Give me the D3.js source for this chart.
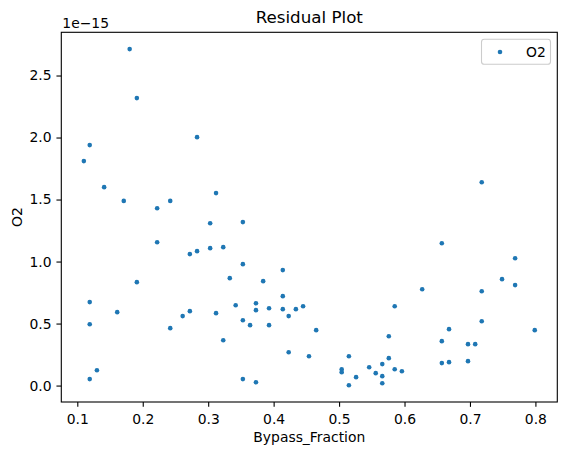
<!DOCTYPE html>
<html><head><meta charset="utf-8">
<script src="https://cdn.jsdelivr.net/npm/d3@7"></script>
<style>
body{margin:0;background:#fff;}
text{font-family:"DejaVu Sans",sans-serif;fill:#000;}
</style></head>
<body>
<svg id="chart" width="567" height="455"></svg>
<script>
// Data (O2 residuals in units of 1e-15)
const bypassFraction = [
  0.180,0.191,0.283,0.119,0.110,0.141,0.312,0.718,
  0.171,0.222,0.242,0.303,0.353,0.222,0.272,0.283,0.303,0.323,0.353,0.414,
  0.191,0.333,0.384,0.119,0.161,0.414,0.342,0.373,0.373,0.393,0.414,0.434,
  0.423,0.272,0.261,0.312,0.353,0.364,0.393,0.119,0.242,0.323,0.423,0.130,
  0.119,0.353,0.373,
  0.445,0.465,0.454,0.657,0.769,0.749,0.769,0.627,0.718,0.585,0.718,0.668,
  0.799,0.576,0.657,0.697,0.708,0.515,0.576,0.657,0.668,0.697,0.566,0.546,
  0.504,0.504,0.585,0.596,0.556,0.566,0.526,0.566,0.515
];
const o2Residual = [
  2.713,2.318,2.003,1.939,1.810,1.600,1.552,1.640,
  1.489,1.430,1.489,1.309,1.318,1.156,1.060,1.084,1.108,1.116,0.979,0.931,
  0.834,0.866,0.842,0.673,0.592,0.721,0.648,0.664,0.608,0.624,0.616,0.616,
  0.560,0.600,0.560,0.584,0.527,0.487,0.487,0.495,0.463,0.366,0.269,0.124,
  0.052,0.052,0.027,
  0.640,0.447,0.237,1.148,1.027,0.858,0.810,0.777,0.761,0.640,0.519,0.455,
  0.447,0.398,0.358,0.334,0.334,0.237,0.221,0.181,0.189,0.197,0.173,0.148,
  0.132,0.108,0.132,0.116,0.100,0.076,0.068,0.019,0.003
];
const xTicks = [0.1,0.2,0.3,0.4,0.5,0.6,0.7,0.8];
const yTicks = [0.0,0.5,1.0,1.5,2.0,2.5];
const offsetLabel = "1e\u221215";
const seriesName = "O2";
const titleText = "Residual Plot";
const xLabel = "Bypass_Fraction";
const yLabel = "O2";

const color = "#1f77b4";
const L = 61.3, R = 557.3, T = 32.3, B = 402;
const svg = d3.select("#chart");

const xmin = d3.min(bypassFraction), xmax = d3.max(bypassFraction);
const ymin = d3.min(o2Residual), ymax = d3.max(o2Residual);
const xm = (xmax - xmin) * 0.05, ym = (ymax - ymin) * 0.05;
const x = d3.scaleLinear().domain([xmin - xm, xmax + xm]).range([L, R]);
const y = d3.scaleLinear().domain([ymin - ym, ymax + ym]).range([B, T]);

// points
svg.append("g").selectAll("circle")
  .data(bypassFraction.map((d, i) => [d, o2Residual[i]]))
  .join("circle")
  .attr("cx", d => x(d[0])).attr("cy", d => y(d[1]))
  .attr("r", 2.3).attr("fill", color);

// axes
const xAxis = svg.append("g").attr("transform", `translate(0,${B})`)
  .call(d3.axisBottom(x).tickValues(xTicks).tickFormat(d3.format(".1f")).tickSizeOuter(0).tickSize(4.86).tickPadding(7.5));
const yAxis = svg.append("g").attr("transform", `translate(${L},0)`)
  .call(d3.axisLeft(y).tickValues(yTicks).tickFormat(d3.format(".1f")).tickSizeOuter(0).tickSize(4.86).tickPadding(4.9));
[xAxis, yAxis].forEach(a => {
  a.select(".domain").remove();
  a.selectAll("line").attr("stroke", "#000").attr("stroke-width", 1.1);
  a.selectAll("text").attr("font-family", "DejaVu Sans").attr("font-size", 13.9).attr("fill", "#000");
});

// frame
svg.append("rect").attr("x", L).attr("y", T).attr("width", R - L).attr("height", B - T)
  .attr("fill", "none").attr("stroke", "#000").attr("stroke-width", 1.1);

// texts
svg.append("text").attr("x", (L + R) / 2).attr("y", 23).attr("text-anchor", "middle")
  .attr("font-size", 16.7).text(titleText);
svg.append("text").attr("x", (L + R) / 2).attr("y", 442).attr("text-anchor", "middle")
  .attr("font-size", 13.9).text(xLabel);
svg.append("text").attr("transform", `translate(22,${(T + B) / 2}) rotate(-90)`).attr("text-anchor", "middle")
  .attr("font-size", 13.9).text(yLabel);
svg.append("text").attr("x", L + 1).attr("y", 28).attr("font-size", 13.9).text(offsetLabel);

// legend
const lg = svg.append("g");
lg.append("rect").attr("x", 481.5).attr("y", 39.3).attr("width", 69).attr("height", 25)
  .attr("rx", 2.8).attr("fill", "#fff").attr("fill-opacity", 0.8).attr("stroke", "#cccccc").attr("stroke-width", 1.1);
lg.append("circle").attr("cx", 500).attr("cy", 52).attr("r", 2.3).attr("fill", color);
lg.append("text").attr("x", 526).attr("y", 57).attr("font-size", 13.9).text(seriesName);
</script>
</body></html>
